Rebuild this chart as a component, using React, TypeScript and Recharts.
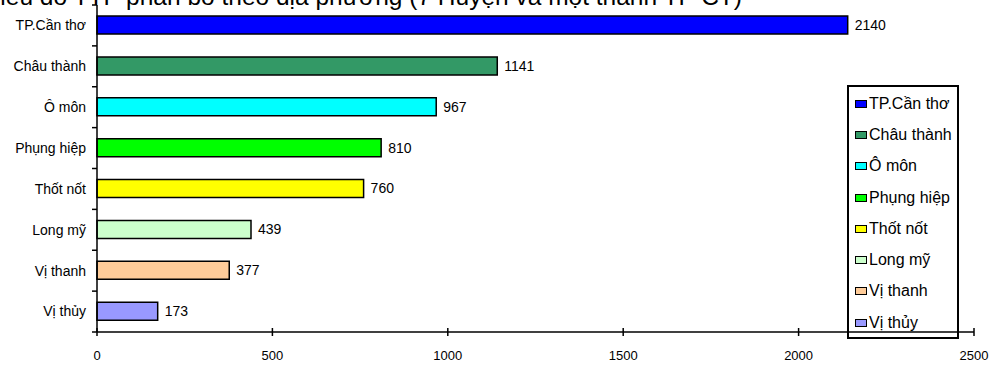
import React from 'react';
import { BarChart, Bar, XAxis, YAxis, Cell, LabelList, Legend } from 'recharts';

// Số liệu theo địa phương
const categories = ['TP.Cần thơ', 'Châu thành', 'Ô môn', 'Phụng hiệp', 'Thốt nốt', 'Long mỹ', 'Vị thanh', 'Vị thủy'];
const counts = [2140, 1141, 967, 810, 760, 439, 377, 173];
const barColors = ['#0000FF', '#339966', '#00FFFF', '#00FF00', '#FFFF00', '#CCFFCC', '#FFCC99', '#9999FF'];
const xTicks = [0, 500, 1000, 1500, 2000, 2500];
const title = 'Biểu đồ TTP phân bố theo địa phương (7 Huyện và một thành TP CT)';

const rows = categories.map((name, i) => ({ name, value: counts[i], color: barColors[i] }));

const WIDTH = 993;
const HEIGHT = 365;
const MARGIN = { top: 5, right: 19, bottom: 3, left: 0 };
const Y_AXIS_W = 97;
const X_AXIS_H = 30;
const PLOT_H = HEIGHT - MARGIN.top - MARGIN.bottom - X_AXIS_H;
const BAND = PLOT_H / categories.length;
const AXIS_X = MARGIN.left + Y_AXIS_W;
const AXIS_Y = MARGIN.top + PLOT_H;
const FONT = 'Liberation Sans, Arial, sans-serif';

function YTick(props: any) {
  const { y, payload, index } = props;
  return (
    <g>
      <line x1={AXIS_X - 5} x2={AXIS_X} y1={y + BAND / 2} y2={y + BAND / 2} stroke="#000" strokeWidth={1.5} />
      {index === 0 && (
        <line x1={AXIS_X - 5} x2={AXIS_X} y1={y - BAND / 2} y2={y - BAND / 2} stroke="#000" strokeWidth={1.5} />
      )}
      <text x={AXIS_X - 11} y={y} dy="0.35em" textAnchor="end" fontSize={14} fontFamily={FONT} fill="#000">
        {payload.value}
      </text>
    </g>
  );
}

function XTick(props: any) {
  const { x, payload } = props;
  return (
    <g>
      <line x1={x} x2={x} y1={AXIS_Y - 4} y2={AXIS_Y + 4} stroke="#000" strokeWidth={1.5} />
      <text x={x} y={AXIS_Y + 28} textAnchor="middle" fontSize={13} fontFamily={FONT} fill="#000">
        {payload.value}
      </text>
    </g>
  );
}

function LegendBox() {
  return (
    <div
      style={{
        width: 112,
        height: 254,
        border: '2px solid #000',
        boxSizing: 'border-box',
        fontFamily: FONT,
        fontSize: 16,
        color: '#000',
        paddingTop: 1,
      }}
    >
      {rows.map((r) => (
        <div key={r.name} style={{ display: 'flex', alignItems: 'center', height: 31.3, paddingLeft: 6, whiteSpace: 'nowrap' }}>
          <span
            style={{
              display: 'inline-block',
              width: 12,
              height: 8,
              boxSizing: 'border-box',
              background: r.color,
              border: '1.5px solid #000',
              marginRight: 2,
              flex: 'none',
            }}
          />
          <span>{r.name}</span>
        </div>
      ))}
    </div>
  );
}

export default function App() {
  return (
    <div style={{ position: 'absolute', left: 0, top: 0, width: WIDTH, height: HEIGHT, background: '#fff', overflow: 'hidden' }}>
      <svg width={WIDTH} height={20} style={{ position: 'absolute', left: 0, top: 0 }}>
        <text x={-16} y={5} fontSize={24.5} fontFamily={FONT} fill="#000">
          {title}
        </text>
      </svg>
      <BarChart width={WIDTH} height={HEIGHT} data={rows} layout="vertical" margin={MARGIN}>
        <XAxis
          type="number"
          domain={[0, 2500]}
          ticks={xTicks}
          interval={0}
          height={X_AXIS_H}
          axisLine={{ stroke: '#000', strokeWidth: 1.5 }}
          tickLine={false}
          tick={<XTick />}
        />
        <YAxis
          type="category"
          dataKey="name"
          width={Y_AXIS_W}
          axisLine={{ stroke: '#000', strokeWidth: 1.5 }}
          tickLine={false}
          interval={0}
          tick={<YTick />}
        />
        <Legend
          layout="vertical"
          align="center"
          verticalAlign="middle"
          wrapperStyle={{ position: 'absolute', left: 847, top: 85, width: 112, height: 254 }}
          content={() => <LegendBox />}
        />
        <Bar dataKey="value" barSize={18} stroke="#000" strokeWidth={1.5} isAnimationActive={false}>
          {rows.map((r) => (
            <Cell key={r.name} fill={r.color} />
          ))}
          <LabelList dataKey="value" position="right" offset={7} fontSize={14} fontFamily={FONT} fill="#000" />
        </Bar>
      </BarChart>
    </div>
  );
}
